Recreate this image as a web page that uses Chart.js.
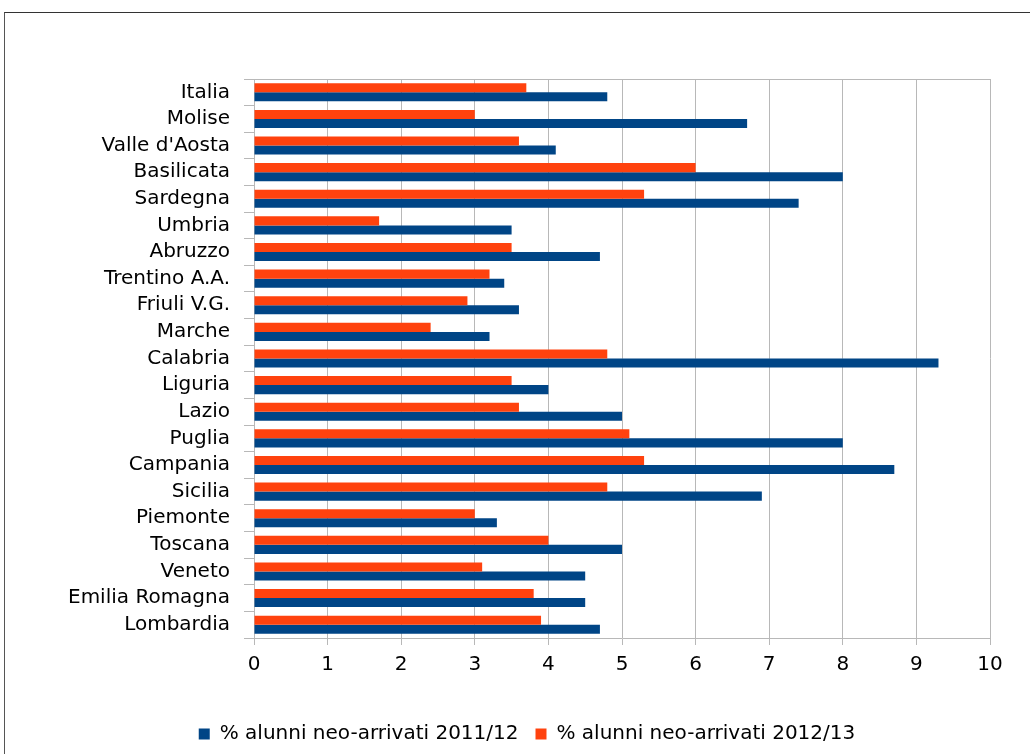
<!DOCTYPE html>
<html>
<head>
<meta charset="utf-8">
<script src="https://cdn.jsdelivr.net/npm/chart.js@4/dist/chart.umd.min.js"></script>
<style>
  html, body { margin: 0; padding: 0; background: #fff; }
  #wrap { position: relative; width: 1030px; height: 754px; overflow: hidden; }
  #frame { position: absolute; left: 4px; top: 12px; width: 1100px; height: 800px;
           border-left: 1px solid #555; border-top: 1px solid #333; }
  #chart { position: absolute; left: 0; top: 0; }
</style>
</head>
<body>
<div id="wrap">
  <div id="frame"></div>
  <canvas id="chart" width="1030" height="754"></canvas>
</div>
<script>
// regioni (dall'alto verso il basso)
const regioni = ["Italia", "Molise", "Valle d'Aosta", "Basilicata", "Sardegna", "Umbria",
  "Abruzzo", "Trentino A.A.", "Friuli V.G.", "Marche", "Calabria", "Liguria", "Lazio",
  "Puglia", "Campania", "Sicilia", "Piemonte", "Toscana", "Veneto", "Emilia Romagna", "Lombardia"];

// % alunni neo-arrivati
const anno2011 = [4.8, 6.7, 4.1, 8.0, 7.4, 3.5, 4.7, 3.4, 3.6, 3.2, 9.3, 4.0, 5.0,
  8.0, 8.7, 6.9, 3.3, 5.0, 4.5, 4.5, 4.7];
const anno2012 = [3.7, 3.0, 3.6, 6.0, 5.3, 1.7, 3.5, 3.2, 2.9, 2.4, 4.8, 3.5, 3.6,
  5.1, 5.3, 4.8, 3.0, 4.0, 3.1, 3.8, 3.9];

const xTicks = [0, 1, 2, 3, 4, 5, 6, 7, 8, 9, 10];

const BLU = '#004586';
const ARANCIO = '#ff420e';
const GRIGIO = '#b8b8b8';
const FONT = "'DejaVu Sans', sans-serif";

const ctx = document.getElementById('chart').getContext('2d');

new Chart(ctx, {
  type: 'bar',
  data: {
    labels: regioni,
    datasets: [
      { label: '% alunni neo-arrivati 2012/13', data: anno2012, backgroundColor: ARANCIO },
      { label: '% alunni neo-arrivati 2011/12', data: anno2011, backgroundColor: BLU }
    ]
  },
  options: {
    indexAxis: 'y',
    responsive: false,
    animation: false,
    datasets: { bar: { categoryPercentage: 0.68, barPercentage: 1.0 } },
    layout: { padding: { top: 79, left: 24, right: 0, bottom: 0 } },
    scales: {
      x: {
        min: 0,
        max: 10,
        afterBuildTicks: (scale) => { scale.ticks = xTicks.map(v => ({ value: v })); },
        afterFit: (scale) => { scale.height = 69; },
        border: { color: GRIGIO },
        grid: { color: GRIGIO, tickColor: GRIGIO, tickLength: 7 },
        ticks: { color: '#000', padding: 8, font: { family: FONT, size: 20 } }
      },
      y: {
        afterFit: (scale) => { scale.width = 230; },
        border: { color: GRIGIO },
        grid: {
          offset: true,
          tickLength: 10,
          tickColor: GRIGIO,
          color: (c) => c.index === 0 ? GRIGIO : 'transparent'
        },
        ticks: { color: '#000', padding: 14, autoSkip: false, font: { family: FONT, size: 20 } }
      },
      // asse vuoto a destra, solo per lasciare il margine
      yMargine: {
        axis: 'y',
        type: 'linear',
        position: 'right',
        afterFit: (scale) => { scale.width = 40; },
        border: { display: false },
        grid: { display: false, drawTicks: false },
        ticks: { display: false }
      }
    },
    plugins: {
      legend: {
        position: 'bottom',
        reverse: true,
        labels: {
          color: '#000',
          boxWidth: 11,
          boxHeight: 11,
          padding: 17,
          font: { family: FONT, size: 20 }
        }
      },
      tooltip: { enabled: false }
    }
  }
});
</script>
</body>
</html>
